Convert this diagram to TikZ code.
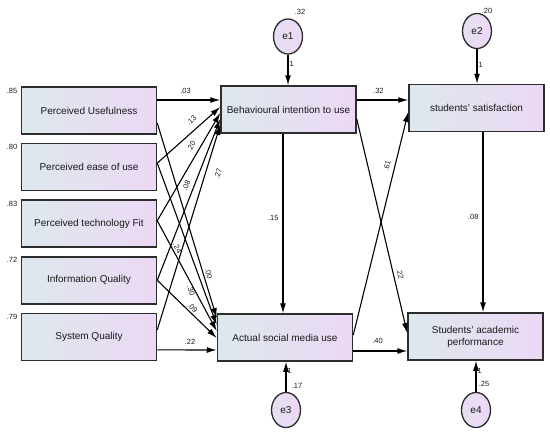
\documentclass[tikz,border=0pt]{standalone}
\usepackage{fontspec}
\setmainfont{Liberation Sans}
\usepackage{xcolor}
\usetikzlibrary{arrows.meta, shapes.geometric, positioning}

\definecolor{boxleft}{RGB}{221,232,236}
\definecolor{boxright}{RGB}{236,216,245}
\definecolor{boxline}{RGB}{45,45,45}

\begin{document}
\begin{tikzpicture}[x=1pt, y=-1pt, >={Latex[length=10pt,width=6pt]}, line width=1.1pt,
		node distance=56.6pt,
		var/.style={draw=boxline, line width=1.5pt, left color=boxleft, right color=boxright,
			minimum width=135pt, minimum height=47pt, inner sep=1pt, align=center,
			text=black!90, font=\fontsize{10}{12}\selectfont},
		errvar/.style={ellipse, draw=boxline, line width=1.3pt, left color=boxleft!40!boxright,
			right color=boxright, minimum width=29pt, minimum height=35pt, inner sep=0pt,
			text=black!90, font=\fontsize{10}{12}\selectfont},
		num/.style={font=\fontsize{7.5}{8}\selectfont, inner sep=1pt, text=black!90}]
		\useasboundingbox (0, 0) rectangle (550, 434);

		% observed variables
		\node[var] (pu) at (89, 110.5) {Perceived Usefulness};
		\node[var, below of=pu] (pe) {Perceived ease of use};
		\node[var, below of=pe] (pt) {Perceived technology Fit};
		\node[var, below of=pt] (iq) {Information Quality};
		\node[var, below of=iq] (sq) {System Quality};

		\node[var] (bi) at (288.5, 109.5) {Behavioural intention to use};
		\node[var] (asm) at (285, 337.5) {Actual social media use};
		\node[var] (ss) at (476.5, 108) {students' satisfaction};
		\node[var] (sap) at (475.5, 336.5) {Students' academic\\performance};

		% error terms
		\node[errvar] (e1) at (288, 36.5) {e1};
		\node[errvar] (e2) at (477, 31) {e2};
		\node[errvar] (e3) at (286, 410) {e3};
		\node[errvar] (e4) at (476, 410) {e4};

		% variances
		\node[num, anchor=north east] (vpu) at ([xshift=-2pt]pu.north west) {.85};
		\node[num, anchor=north east] (vpe) at ([xshift=-2pt]pe.north west) {.80};
		\node[num, anchor=north east] (vpt) at ([xshift=-2pt]pt.north west) {.83};
		\node[num, anchor=north east] (viq) at ([xshift=-2pt]iq.north west) {.72};
		\node[num, anchor=north east] (vsq) at ([xshift=-2pt]sq.north west) {.79};
		\node[num] (ve1) at ([xshift=12pt, yshift=24.5pt]e1) {.32};
		\node[num] (ve2) at ([xshift=10pt, yshift=20pt]e2) {.20};
		\node[num] (ve3) at ([xshift=11pt, yshift=24pt]e3) {.17};
		\node[num] (ve4) at ([xshift=8pt, yshift=26pt]e4) {.25};

		% paths into behavioural intention
		\draw[->] ([yshift=10.5pt]pu.east) -- ([yshift=9.5pt]bi.west)
			node[num, pos=.45, above=4.5pt] (wpubi) {.03};
		\draw[->] ([yshift=4pt]pe.east) -- ([yshift=2.5pt]bi.west)
			node[num, pos=.64, sloped, above=5pt] (wpebi) {.13};
		\draw[->] ([yshift=3pt]pt.east) -- ([yshift=-3.5pt]bi.west)
			node[num, pos=.65, sloped, above=4pt] (wptbi) {.20};
		\draw[->] (iq.east) -- ([yshift=-9.5pt]bi.west)
			node[num, pos=.57, sloped, above=3pt] (wiqbi) {.08};
		\draw[->] ([yshift=7pt]sq.east) -- ([yshift=-15.5pt]bi.west)
			node[num, pos=.78, sloped, below=8pt] (wsqbi) {.27};

		% paths into actual use
		\draw[->] ([yshift=-12.5pt]pu.east) -- ([yshift=19.5pt]asm.west)
			node[num, pos=.78, sloped, above=1pt] (wpuasm) {.00};
		\draw[->] ([yshift=4pt]pe.east) -- ([yshift=12.5pt]asm.west)
			node[num, pos=.76, sloped, below=8pt] (wpeasm) {.30};
		\draw[->] ([yshift=3pt]pt.east) -- ([yshift=6.5pt]asm.west)
			node[num, pos=.27, sloped, above=.5pt] (wptasm) {.24};
		\draw[->] (iq.east) -- ([yshift=-.5pt]asm.west)
			node[num, pos=.54, sloped, above=.5pt] (wiqasm) {.09};
		\draw[->] ([yshift=-13pt]sq.east) -- ([yshift=-12.5pt]asm.west)
			node[num, pos=.55, above=3.5pt] (wsqasm) {.22};

		% paths on the right
		\coordinate (bifoot) at ([xshift=-5.5pt]bi.south);
		\coordinate (ssfoot) at ([xshift=6.5pt]ss.south);
		\draw[->] ([yshift=9.5pt]bi.east) -- ([yshift=8pt]ss.west)
			node[num, pos=.42, above=4.5pt] (wbiss) {.32};
		\draw[->] (bifoot) -- (bifoot |- asm.north)
			node[num, pos=.47, left=3pt] (wbiasm) {.15};
		\draw[->] (ssfoot) -- (ssfoot |- sap.north)
			node[num, pos=.47, left=3pt] (wsssap) {.08};
		\draw[->] ([yshift=2.5pt]asm.east) -- ([yshift=-4pt]ss.west)
			node[num, pos=.75, sloped, above=3.5pt] (wasmss) {.61};
		\draw[->] ([yshift=-9.5pt]bi.east) -- ([yshift=3.5pt]sap.west)
			node[num, pos=.73, sloped, above=2.5pt] (wbisap) {.22};
		\draw[->] ([yshift=-13.5pt]asm.east) -- ([yshift=-14.5pt]sap.west)
			node[num, pos=.45, above=5.5pt] (wasmsap) {.40};

		% error paths
		\draw[->] (e1) -- (e1 |- bi.north) node[num, pos=.3, right] (f1) {1};
		\draw[->] (e2) -- (e2 |- ss.north) node[num, pos=.46, right] (f2) {1};
		\draw[->] (e3) -- (e3 |- asm.south) node[num, pos=.71, right] (f3) {1};
		\draw[->] (e4) -- (e4 |- sap.south) node[num, pos=.66, right] (f4) {1};
	\end{tikzpicture}
\end{document}
